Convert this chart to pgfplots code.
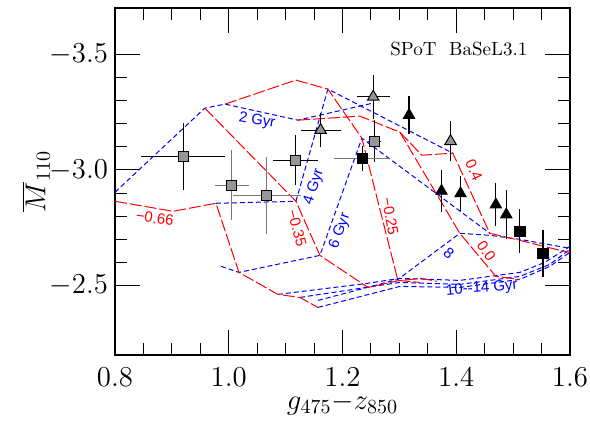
\documentclass[border=0pt]{standalone}
\usepackage{fontspec}
\usepackage{pgfplots}
\pgfplotsset{compat=1.18}
\newfontfamily\hv{Liberation Sans}
\definecolor{mred}{RGB}{255,0,0}
\definecolor{mblue}{RGB}{0,0,255}
\definecolor{mgray}{RGB}{150,150,150}
\definecolor{bargray}{RGB}{120,120,120}
\tikzset{lab/.style={font=\hv\fontsize{7.5}{9}\selectfont}}
\begin{document}
\begin{tikzpicture}
\begin{axis}[name=ax, scale only axis, width=227.5pt, height=173.5pt,
 xmin=0.8, xmax=1.6, ymin=-3.7, ymax=-2.2, y dir=reverse,
 xtick={0.8,1.0,1.2,1.4,1.6}, ytick={-3.5,-3.0,-2.5},
 minor x tick num=3, minor y tick num=4,
 tick align=inside, major tick length=12.5pt, minor tick length=6pt,
 xticklabel style={/pgf/number format/fixed, /pgf/number format/fixed zerofill, /pgf/number format/precision=1, yshift=-3pt},
 yticklabel style={/pgf/number format/fixed, /pgf/number format/fixed zerofill, /pgf/number format/precision=1},
 tick label style={font=\fontsize{14}{16}\selectfont},
 label style={font=\fontsize{14}{16}\selectfont},
 xlabel={$g_{475}{-}z_{850}$}, ylabel={$\overline{M}_{110}$},
 xlabel style={yshift=4pt}, ylabel style={yshift=-7pt},
 axis line style={line width=0.75pt}, every tick/.style={black, line width=0.5pt},
 redl/.style={mred, line width=0.5pt, dash pattern=on 6pt off 1.5pt},
 bluel/.style={mblue, line width=0.5pt, dash pattern=on 2.5pt off 1.5pt},
 ]
% age lines (blue)
\addplot[bluel] coordinates {(0.800,-2.9035) (0.958,-3.2671) (0.9933,-3.2844) (1.1216,-3.2152) (1.2534,-3.2887)};
\addplot[bluel] coordinates {(0.9775,-2.8558) (1.1181,-2.8645) (1.1743,-3.3494) (1.3940,-3.0723)};
\addplot[bluel] coordinates {(0.9865,-2.5831) (1.0179,-2.5571) (1.1603,-2.6307) (1.2341,-3.1372) (1.4590,-2.7260)};
\addplot[bluel] coordinates {(1.1568,-2.4359) (1.2974,-2.5268) (1.4063,-2.7260) (1.4590,-2.7173) (1.5118,-2.7000) (1.6,-2.6610)};
\addplot[bluel] coordinates {(1.0865,-2.4619) (1.2429,-2.5095) (1.3009,-2.5312) (1.4063,-2.5225) (1.5118,-2.5571) (1.5557,-2.6004) (1.6,-2.6697)};
\addplot[bluel] coordinates {(1.1251,-2.4489) (1.3009,-2.5139) (1.4063,-2.5052) (1.5118,-2.5398) (1.5645,-2.5918) (1.6,-2.6567)};
\addplot[bluel] coordinates {(1.1568,-2.4056) (1.3009,-2.4965) (1.4063,-2.4922) (1.5118,-2.5268) (1.5645,-2.5831) (1.6,-2.6437)};
% metallicity lines (red)
\addplot[redl] coordinates {(0.800,-2.8645) (0.902,-2.8212) (0.9775,-2.8558) (1.0179,-2.5571) (1.0865,-2.4619) (1.1251,-2.4489) (1.1568,-2.4056)};
\addplot[redl] coordinates {(0.958,-3.2671) (1.1181,-2.8645) (1.1603,-2.6307) (1.2446,-2.4922) (1.3009,-2.5225) (1.3395,-2.5312) (1.3658,-2.5182)};
\addplot[redl] coordinates {(0.9933,-3.2844) (1.1181,-3.3883) (1.1743,-3.3494) (1.2341,-3.1372) (1.2974,-2.5225) (1.3360,-2.5139)};
\addplot[redl] coordinates {(1.1216,-3.2152) (1.2306,-3.2325) (1.3009,-3.1632) (1.4063,-2.7260) (1.4696,-2.5398) (1.5118,-2.5268)};
\addplot[redl] coordinates {(1.3009,-3.1632) (1.3395,-3.0636) (1.3940,-3.0723) (1.4590,-2.7260) (1.5118,-2.6957) (1.5821,-2.6524) (1.6,-2.6437)};
% data points
\addplot[only marks, mark=square*, mark size=2.5pt, mark options={fill=mgray, draw=black, line width=0.5pt},
 error bars/.cd, x dir=both, x explicit, y dir=both, y explicit, error mark=none, error bar style={black, line width=0.6pt}]
 coordinates {(0.920,-3.059) +- (0.074,0.145) (1.1175,-3.042) +- (0.040,0.108) (1.256,-3.124) +- (0.011,0.090)};
\addplot[only marks, mark=square*, mark size=2.5pt, mark options={fill=mgray, draw=black, line width=0.5pt},
 error bars/.cd, x dir=both, x explicit, y dir=both, y explicit, error mark=none, error bar style={bargray, line width=0.6pt}]
 coordinates {(1.005,-2.934) +- (0.030,0.150) (1.067,-2.890) +- (0.060,0.168)};
\addplot[only marks, mark=triangle*, mark size=3.3pt, mark options={fill=mgray, draw=black, line width=0.5pt},
 error bars/.cd, x dir=both, x explicit, y dir=both, y explicit, error mark=none, error bar style={black, line width=0.6pt}]
 coordinates {(1.1615,-3.172) +- (0.035,0.075) (1.254,-3.316) +- (0.029,0.095) (1.390,-3.124) +- (0,0.087)};
\addplot[only marks, mark=none, error bars/.cd, x dir=both, x explicit, error mark=none, error bar style={bargray, line width=0.6pt}]
 coordinates {(1.2347,-3.049) +- (0.049,0)};
\addplot[only marks, mark=triangle*, mark size=3.3pt, mark options={fill=black, draw=black},
 error bars/.cd, y dir=both, y explicit, error mark=none, error bar style={black, line width=0.6pt}]
 coordinates {(1.317,-3.237) +- (0,0.083) (1.374,-2.909) +- (0,0.092) (1.4075,-2.898) +- (0,0.077) (1.4696,-2.850) +- (0,0.092) (1.488,-2.807) +- (0,0.107)};
\addplot[only marks, mark=square*, mark size=2.6pt, mark options={fill=black, draw=black},
 error bars/.cd, y dir=both, y explicit, error mark=none, error bar style={black, line width=0.6pt}]
 coordinates {(1.2347,-3.049) +- (0,0.054) (1.5118,-2.735) +- (0,0.095) (1.5527,-2.638) +- (0,0.101)};
% labels
\node[lab, text=mblue, rotate=-10] at (axis cs:1.0496,-3.212) {2 Gyr};
\node[lab, text=mblue, rotate=72] at (axis cs:1.150,-2.925) {4 Gyr};
\node[lab, text=mblue, rotate=70] at (axis cs:1.196,-2.735) {6 Gyr};
\node[lab, text=mblue, rotate=-40] at (axis cs:1.387,-2.640) {8};
\node[lab, text=mblue, rotate=5] at (axis cs:1.445,-2.488) {10--14 Gyr};
\node[lab, text=mred, rotate=-8] at (axis cs:0.870,-2.791) {−0.66};
\node[lab, text=mred, rotate=-75] at (axis cs:1.120,-2.748) {−0.35};
\node[lab, text=mred, rotate=-80] at (axis cs:1.284,-2.800) {−0.25};
\node[lab, text=mred, rotate=-55] at (axis cs:1.453,-2.650) {0.0};
\node[lab, text=mred, rotate=-65] at (axis cs:1.431,-2.999) {0.4};
\node[font=\fontsize{9.5}{11}\selectfont] at (axis cs:1.4046,-3.5225) {SPoT\ \ BaSeL3.1};
\end{axis}
\pgfresetboundingbox
\path[use as bounding box] ([xshift=-57.5pt,yshift=-32.5pt]ax.south west) rectangle ([xshift=10pt,yshift=4pt]ax.north east);
\end{tikzpicture}
\end{document}
